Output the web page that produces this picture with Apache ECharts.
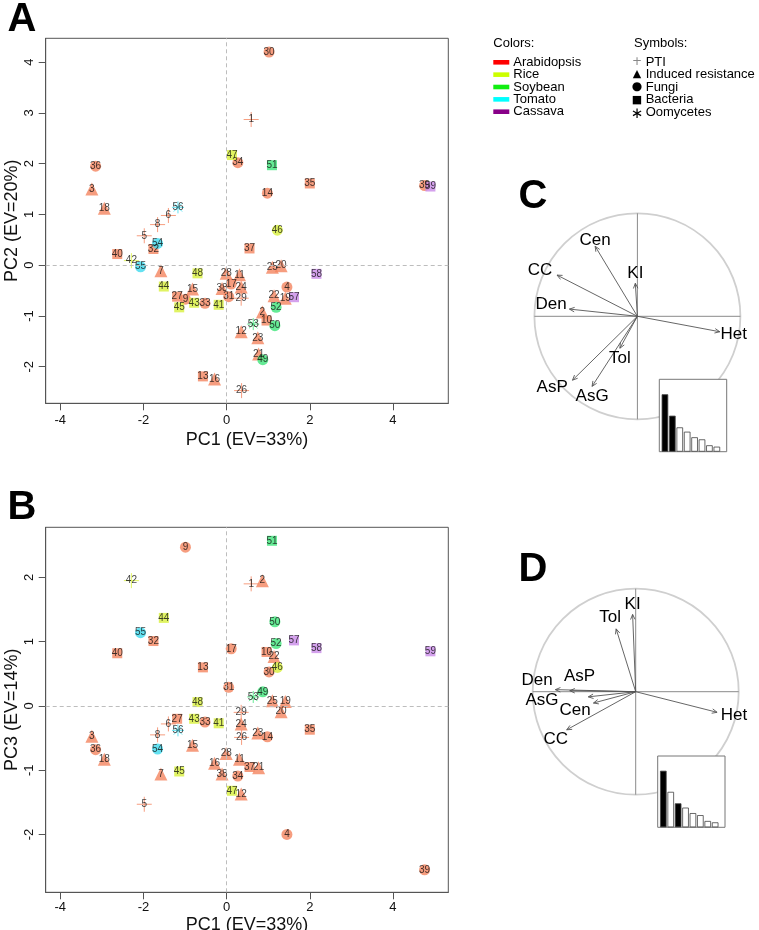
<!DOCTYPE html>
<html><head><meta charset="utf-8">
<script src="https://cdn.jsdelivr.net/npm/echarts@6/dist/echarts.min.js"></script>
<style>html,body{margin:0;padding:0;background:#fff}#c{width:759px;height:930px}</style>
</head><body><div id="c"></div>
<script>
// ================= DATA =================
const pointIds = ['1','2','3','4','5','6','7','8','9','10','11','12','13','14','15','16','17','18','19','20',
  '21','22','23','24','25','26','27','28','29','30','31','32','33','34','35','36','37','38','39','40',
  '41','42','43','44','45','46','47','48','49','50','51','52','53','54','55','56','57','58','59'];
// A=Arabidopsis R=Rice S=Soybean T=Tomato C=Cassava
const species = ['A','A','A','A','A','A','A','A','A','A','A','A','A','A','A','A','A','A','A','A',
  'A','A','A','A','A','A','A','A','A','A','A','A','A','A','A','A','A','A','A','A',
  'R','R','R','R','R','R','R','R','S','S','S','S','S','T','T','T','C','C','C'];
// P=PTI I=Induced resistance F=Fungi B=Bacteria O=Oomycetes
const types = ['P','I','I','F','P','P','I','P','F','B','I','I','B','F','I','I','F','I','I','I',
  'I','I','I','I','I','P','B','I','P','F','F','B','F','F','B','F','B','I','F','B',
  'B','P','B','B','B','F','B','B','F','F','B','F','O','F','F','O','B','B','B'];
const pc1 = [0.59,0.86,-3.24,1.45,-1.98,-1.40,-1.58,-1.66,-0.99,0.96,0.31,0.35,-0.57,0.98,-0.82,-0.29,0.11,-2.94,1.41,1.31,
  0.77,1.14,0.75,0.35,1.10,0.36,-1.19,-0.01,0.35,1.02,0.05,-1.76,-0.52,0.27,2.00,-3.15,0.55,-0.11,4.76,-2.63,
  -0.19,-2.29,-0.78,-1.51,-1.14,1.22,0.13,-0.70,0.87,1.16,1.09,1.19,0.64,-1.66,-2.07,-1.17,1.62,2.16,4.90];
const pc2 = [2.87,-0.92,1.50,-0.43,0.58,0.98,-0.11,0.80,-0.67,-1.09,-0.19,-1.31,-2.19,1.42,-0.47,-2.24,-0.37,1.12,-0.65,-0.01,
  -1.75,-0.60,-1.43,-0.43,-0.04,-2.47,-0.62,-0.16,-0.65,4.20,-0.62,0.32,-0.75,2.02,1.61,1.95,0.33,-0.46,1.57,0.22,
  -0.78,0.09,-0.74,-0.42,-0.83,0.69,2.17,-0.16,-1.86,-1.19,1.97,-0.83,-1.16,0.43,-0.03,1.14,-0.63,-0.17,1.55];
const pc3 = [1.90,1.95,-0.47,-2.00,-1.53,-0.28,-1.06,-0.45,2.47,0.84,-0.83,-1.37,0.60,-0.48,-0.61,-0.89,0.89,-0.83,0.07,-0.09,
  -0.96,0.77,-0.42,-0.28,0.08,-0.49,-0.20,-0.74,-0.10,0.53,0.29,1.01,-0.25,-1.09,-0.37,-0.68,-0.95,-1.06,-2.55,0.82,
  -0.27,1.95,-0.20,1.37,-1.02,0.60,-1.32,0.06,0.22,1.31,2.57,0.97,0.14,-0.67,1.14,-0.38,1.02,0.90,0.85];

const speciesNames = ['Arabidopsis','Rice','Soybean','Tomato','Cassava'];
const typeNames = ['PTI','Induced resistance','Fungi','Bacteria','Oomycetes'];

const loadingNames = ['Den','Het','Cen','CC','AsP','AsG','Tol','KI'];
const loadC_x = [-0.66, 0.80,-0.41,-0.78,-0.63,-0.44,-0.17,-0.02];
const loadC_y = [ 0.07,-0.15, 0.68, 0.40,-0.62,-0.68,-0.31, 0.32];
const loadD_x = [-0.78, 0.79,-0.41,-0.67,-0.64,-0.46,-0.19,-0.03];
const loadD_y = [ 0.02,-0.20,-0.11,-0.37, 0.01,-0.05, 0.61, 0.75];
const eigenPct = [33, 20.7, 14, 11.5, 8.3, 7.1, 3.7, 2.9];

const xTicks = [-4,-2,0,2,4];
const yTicksA = [-2,-1,0,1,2,3,4];
const yTicksB = [-2,-1,0,1,2];

// ================= STYLE / LAYOUT =================
const FONT = '"Liberation Sans", Arial, Helvetica, sans-serif';
const markerColor = {A:'#F4845F', R:'#D8F03C', S:'#3EE57A', T:'#3DD9EE', C:'#C98AE8'};
const legendColor = ['#FF0000','#CCFF00','#11EE11','#00FFFF','#880088'];
const legendGlyph = ['+','\u25B2','\u25CF','\u25A0','\u2217'];
const legendGlyphSize = [12, 11, 12, 11, 15];
const symbolFor = {
  P:'path://M0,10L20,10M10,0L10,20',
  I:'triangle', F:'circle', B:'rect',
  O:'path://M10,0L10,20M0,10L20,10M3,3L17,17M17,3L3,17'
};
const sizeFor = {P:15, I:13, F:11, B:10, O:12};
const strokeOnly = {P:true, O:true};

const nudgeC = {Den:[2,-5], Het:[-4,3], CC:[0,-5], Cen:[0,4], AsP:[0,7]};
const nudgeD = {Den:[2,-9], AsP:[30,-14], AsG:[-25,3], Cen:[2,7], CC:[6,10], Het:[-1,3], Tol:[-6,-1]};

const measureCtx = document.createElement('canvas').getContext('2d');
function textW(t, size){ measureCtx.font = size + 'px ' + FONT; return measureCtx.measureText(t).width; }

function pointData(ys){
  return pc1.map((x,i)=>{
    const t = types[i], col = markerColor[species[i]];
    return {
      name: pointIds[i], value:[x, ys[i]],
      symbol: symbolFor[t], symbolSize: sizeFor[t],
      itemStyle: strokeOnly[t] ? {color:'rgba(0,0,0,0)', borderColor: col, borderWidth: 1} : {color: col}
    };
  });
}

function scatterAxes(gi, ymin, ymax, yTicks, yName, xGap, xLabMargin){
  const common = {
    gridIndex: gi, type:'value', splitLine:{show:false}, nameMoveOverlap:false,
    axisLine:{show:true, onZero:false, lineStyle:{color:'#555', width:1}},
    axisTick:{show:true, inside:false, length:7, lineStyle:{color:'#555'}},
    nameLocation:'middle', nameTextStyle:{fontSize:18, color:'#111', fontFamily:FONT}
  };
  const x = Object.assign({}, common, {
    min:-4.35, max:5.33, name:'PC1 (EV=33%)', nameGap:xGap,
    axisTick: Object.assign({}, common.axisTick, {customValues: xTicks}),
    axisLabel:{customValues: xTicks, fontSize:13, color:'#111', fontFamily:FONT, margin:xLabMargin}
  });
  const y = Object.assign({}, common, {
    min:ymin, max:ymax, name:yName, nameGap:25,
    axisTick: Object.assign({}, common.axisTick, {customValues: yTicks}),
    axisLabel:{customValues: yTicks, fontSize:13, color:'#111', fontFamily:FONT, rotate:90, margin:10}
  });
  return [x, y];
}

function scatterSeries(gi, ys){
  return [
    {type:'scatter', xAxisIndex:gi, yAxisIndex:gi, z:1, silent:true, symbolSize:0, data:[[0,0]],
     markLine:{silent:true, symbol:'none', label:{show:false},
       lineStyle:{type:[4,3], color:'#bdbdbd', width:1}, data:[{xAxis:0},{yAxis:0}]}},
    {type:'scatter', xAxisIndex:gi, yAxisIndex:gi, z:3, silent:true, data: pointData(ys),
     label:{show:true, position:'inside', formatter:'{b}', fontSize:10, color:'#111', fontFamily:FONT}}
  ];
}

function circleSeries(ai){
  return {type:'custom', xAxisIndex:ai, yAxisIndex:ai, z:2, silent:true, data:[[0,0]],
    renderItem:(params, api)=>{
      const c = api.coord([0,0]), s = api.size([1,1]);
      const l = api.coord([-1,0]), r = api.coord([1,0]), t = api.coord([0,1]), b = api.coord([0,-1]);
      return {type:'group', children:[
        {type:'circle', shape:{cx:c[0], cy:c[1], r:(s[0]+s[1])/2}, style:{fill:'none', stroke:'#cfcfcf', lineWidth:1.8}},
        {type:'line', shape:{x1:l[0],y1:l[1],x2:r[0],y2:r[1]}, style:{stroke:'#8a8a8a', lineWidth:1}},
        {type:'line', shape:{x1:t[0],y1:t[1],x2:b[0],y2:b[1]}, style:{stroke:'#8a8a8a', lineWidth:1}}
      ]};
    }};
}

function arrowSeries(ai, lx, ly, nudge){
  const LS = 17, yh = 10.2;
  return {type:'custom', xAxisIndex:ai, yAxisIndex:ai, z:4, silent:true,
    data: lx.map((x,i)=>[x, ly[i], i]),
    renderItem:(params, api)=>{
      const xr = api.value(0), yr = api.value(1), i = api.value(2);
      const name = loadingNames[i];
      const o = api.coord([0,0]), p = api.coord([xr, yr]);
      const ang = Math.atan2(p[1]-o[1], p[0]-o[0]);
      const h = 5.5, sp = 0.42;
      const h1 = [p[0]-h*Math.cos(ang-sp), p[1]-h*Math.sin(ang-sp)];
      const h2 = [p[0]-h*Math.cos(ang+sp), p[1]-h*Math.sin(ang+sp)];
      const w = textW(' '+name+' ', LS);
      let tx = p[0], ty = p[1];
      if (xr > yr && xr > -yr) tx += w/2;
      else if (xr > yr && xr <= -yr) ty += yh;
      else if (xr <= yr && xr <= -yr) tx -= w/2;
      else ty -= yh;
      const n = nudge[name] || [0,0];
      return {type:'group', children:[
        {type:'line', shape:{x1:o[0],y1:o[1],x2:p[0],y2:p[1]}, style:{stroke:'#555', lineWidth:0.9}},
        {type:'polyline', shape:{points:[h1,p,h2]}, style:{stroke:'#555', lineWidth:0.9, fill:'none'}},
        {type:'text', x:tx+n[0], y:ty+n[1], style:{text:name, font: LS+'px '+FONT, fill:'#000', align:'center', verticalAlign:'middle'}}
      ]};
    }};
}

function insetSeries(ai, selected){
  return [
    {type:'custom', xAxisIndex:ai, yAxisIndex:ai, z:10, silent:true, data:[[0,0]],
     renderItem:(params)=>{ const cs = params.coordSys;
       return {type:'rect', shape:{x:cs.x, y:cs.y, width:cs.width, height:cs.height}, style:{fill:'#fff', stroke:'#777', lineWidth:1}}; }},
    {type:'bar', xAxisIndex:ai, yAxisIndex:ai, z:11, silent:true, barWidth:6.6,
     data: eigenPct.map((v,i)=>({value:[i,v], itemStyle:{color: selected.includes(i)?'#000':'#fff', borderColor:'#444', borderWidth:0.8}}))}
  ];
}

const [xA, yA] = scatterAxes(0, -2.72, 4.47, yTicksA, 'PC2 (EV=20%)', 28, 11);
const [xB, yB] = scatterAxes(1, -2.90, 2.78, yTicksB, 'PC3 (EV=14%)', 24, 9);
const hidden = (gi, min, max)=>({gridIndex:gi, type:'value', min, max, show:false, splitLine:{show:false}});

// legend & panel letters (graphic)
const graphic = [];
const letter = (t,x,y)=>({type:'text', x, y, style:{text:t, font:'bold 40px '+FONT, fill:'#000', align:'center', verticalAlign:'middle'}});
graphic.push(letter('A',22,20), letter('B',22,508), letter('C',533,197), letter('D',533,570));
graphic.push({type:'text', x:493.3, y:43.3, style:{text:'Colors:', font:'13px '+FONT, fill:'#000', verticalAlign:'middle'}});
speciesNames.forEach((s,i)=>{
  const y = 62.3 + 12.35*i;
  graphic.push({type:'rect', shape:{x:493.3, y:y-2.3, width:16, height:4.6}, style:{fill:legendColor[i]}});
  graphic.push({type:'text', x:513.3, y:y, style:{text:s, font:'13px '+FONT, fill:'#000', verticalAlign:'middle'}});
});
graphic.push({type:'text', x:634, y:43.3, style:{text:'Symbols:', font:'13px '+FONT, fill:'#000', verticalAlign:'middle'}});
typeNames.forEach((s,i)=>{
  const y = 62 + 12.6*i;
  graphic.push({type:'text', x:637, y:y + (i===4?2:0), style:{text:legendGlyph[i], font:legendGlyphSize[i]+'px "DejaVu Sans", '+FONT, fill: i===0?'#888':'#000', align:'center', verticalAlign:'middle'}});
  graphic.push({type:'text', x:645.7, y:y, style:{text:s, font:'13px '+FONT, fill:'#000', verticalAlign:'middle'}});
});

const gridBase = {outerBoundsMode:'none', containLabel:false};
const option = {
  animation:false,
  backgroundColor:'#fff',
  textStyle:{fontFamily:FONT},
  grid:[
    Object.assign({left:45.7, top:38.3, width:402.6, height:365, show:true, borderColor:'#555', borderWidth:1, backgroundColor:'rgba(0,0,0,0)'}, gridBase),
    Object.assign({left:45.7, top:527.3, width:402.6, height:365, show:true, borderColor:'#555', borderWidth:1, backgroundColor:'rgba(0,0,0,0)'}, gridBase),
    Object.assign({left:534.4, top:213.3, width:206, height:206}, gridBase),
    Object.assign({left:532.7, top:588.7, width:206, height:206}, gridBase),
    Object.assign({left:659.3, top:379.3, width:67.4, height:72.4}, gridBase),
    Object.assign({left:657.7, top:756, width:67.3, height:71.3}, gridBase)
  ],
  xAxis:[xA, xB, hidden(2,-1,1), hidden(3,-1,1), hidden(4,-0.76,8.33), hidden(5,-0.76,8.33)],
  yAxis:[yA, yB, hidden(2,-1,1), hidden(3,-1,1), hidden(4,0,41.6), hidden(5,0,41.6)],
  series:[].concat(
    scatterSeries(0, pc2),
    scatterSeries(1, pc3),
    [circleSeries(2), arrowSeries(2, loadC_x, loadC_y, nudgeC)],
    [circleSeries(3), arrowSeries(3, loadD_x, loadD_y, nudgeD)],
    insetSeries(4, [0,1]),
    insetSeries(5, [0,2])
  ),
  graphic: graphic
};
const chart = echarts.init(document.getElementById('c'), null, {renderer:'canvas', width:759, height:930});
chart.setOption(option);
</script></body></html>
